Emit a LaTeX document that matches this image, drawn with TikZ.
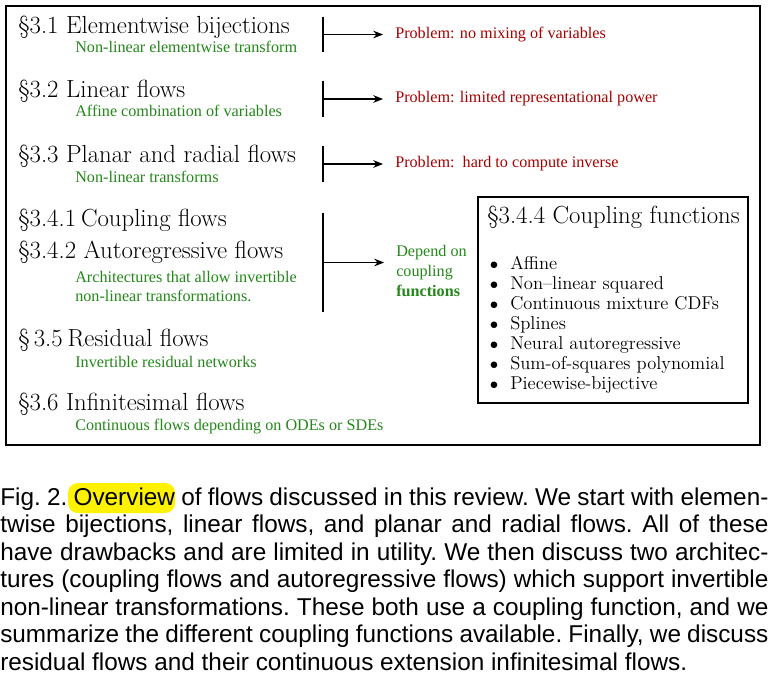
\documentclass[tikz,border=0pt]{standalone}
\usepackage{fontspec}
\usepackage{xcolor}
\usepackage{tikz}
\usetikzlibrary{arrows.meta,calc}
\newfontfamily\timesfont{Liberation Serif}
\newfontfamily\capfont{Liberation Sans}
\definecolor{probred}{RGB}{165,0,0}
\definecolor{descgreen}{RGB}{35,135,25}

\begin{document}
\begin{tikzpicture}[x=0.025cm, y=-0.025cm,
  head/.style={anchor=base west, inner sep=0pt, font=\fontsize{17.6}{20}\selectfont},
  desc/.style={anchor=base west, inner sep=0pt, text=descgreen, font=\timesfont\fontsize{11.5}{14}\selectfont},
  prob/.style={anchor=base west, inner sep=0pt, text=probred, font=\timesfont\fontsize{11.5}{14}\selectfont},
  cfitem/.style={anchor=base west, inner sep=0pt, font=\fontsize{13.2}{15}\selectfont},
  capline/.style={anchor=base west, inner sep=0pt, font=\capfont\fontsize{17.3}{20}\selectfont\frenchspacing},
  bar/.style={line width=0.8pt},
  arr/.style={-{Stealth[length=7pt,width=5.5pt]}, line width=0.8pt, shorten >=8.5pt}]

  \useasboundingbox (0,0) rectangle (768,672);
  \draw[line width=0.8pt] (6,6) rectangle (760,445);

  \node[head] (s31) at (18,33.3) {\S3.1 Elementwise bijections};
  \node[desc] (d31) at (75,52.7) {Non-linear elementwise transform};
  \node[head] (s32) at (18,97.3) {\S3.2 Linear flows};
  \node[desc] (d32) at (75,116.7) {Affine combination of variables};
  \node[head] (s33) at (18,162.3) {\S3.3 Planar and radial flows};
  \node[desc] (d33) at (75,182.7) {Non-linear transforms};
  \node[head] (s341) at (18,226) {\S3.4.1\hspace{0.2em}Coupling flows};
  \node[head] (s342) at (18,258.3) {\S3.4.2 Autoregressive flows};
  \node[desc] (d342a) at (75,282.7) {Architectures that allow invertible};
  \node[desc] (d342b) at (75,301.7) {non-linear transformations.};
  \node[head] (s35) at (18,346.7) {\S\,3.5\hspace{0.2em}Residual flows};
  \node[desc] (d35) at (75,367.7) {Invertible residual networks};
  \node[head] (s36) at (18,410.7) {\S3.6 Infinitesimal flows};
  \node[desc] (d36) at (75,430) {Continuous flows depending on ODEs or SDEs};

  \foreach \i/\t/\b/\txt in {1/17/52/{Problem: no mixing of variables},
      2/81/117/{Problem: limited representational power},
      3/146/182/{Problem:\ \ hard to compute inverse}}
    { \coordinate (bt\i) at (323,\t); \coordinate (bb\i) at (323,\b);
      \draw[bar] (bt\i) -- (bb\i);
      \coordinate (bm\i) at ($(bt\i)!0.5!(bb\i)$);
      \node[prob] (p\i) at (395,\t+21.3) {\txt};
      \draw[arr] (bm\i) -- (bm\i -| p\i.west); }

  \coordinate (bt4) at (323,213); \coordinate (bb4) at (323,312);
  \draw[bar] (bt4) -- (bb4);
  \coordinate (bm4) at ($(bt4)!0.5!(bb4)$);
  \node[desc] (dep1) at (396,256) {Depend on};
  \node[desc] (dep2) at (396,276) {coupling};
  \node[desc] (dep3) at (396,296.5) {\bfseries functions};
  \draw[arr] (bm4) -- (bm4 -| dep1.west);

  \draw[line width=0.8pt] (478,197) rectangle (748,403);
  \node[head] (cfhead) at (487,223.3) {\S3.4.4 Coupling functions};
  \foreach \lab [count=\i] in {Affine, Non--linear squared, Continuous mixture CDFs, Splines,
      Neural autoregressive, Sum-of-squares polynomial, Piecewise-bijective}
    { \node[cfitem] (cf\i) at (510,249.3+20*\i) {\lab};
      \node[cfitem, anchor=base] (bul\i) at (494,249.3+20*\i) {$\bullet$}; }

  \fill[yellow, rounded corners=7pt] (68,483) rectangle (175,513);
  \node[capline] (c1) at (0,505) {\makebox[19.2cm][s]{Fig. 2. Overview of flows discussed in this review. We start with elemen-}};
  \node[capline] (c2) at (0,532.5) {\makebox[19.2cm][s]{twise bijections, linear flows, and planar and radial flows. All of these}};
  \node[capline] (c3) at (0,560) {\makebox[19.2cm][s]{have drawbacks and are limited in utility. We then discuss two architec-}};
  \node[capline] (c4) at (0,587.5) {\makebox[19.2cm][s]{tures (coupling flows and autoregressive flows) which support invertible}};
  \node[capline] (c5) at (0,615) {\makebox[19.2cm][s]{non-linear transformations. These both use a coupling function, and we}};
  \node[capline] (c6) at (0,642.5) {\makebox[19.2cm][s]{summarize the different coupling functions available. Finally, we discuss}};
  \node[capline] (c7) at (0,670) {residual flows and their continuous extension infinitesimal flows.};
\end{tikzpicture}
\end{document}
